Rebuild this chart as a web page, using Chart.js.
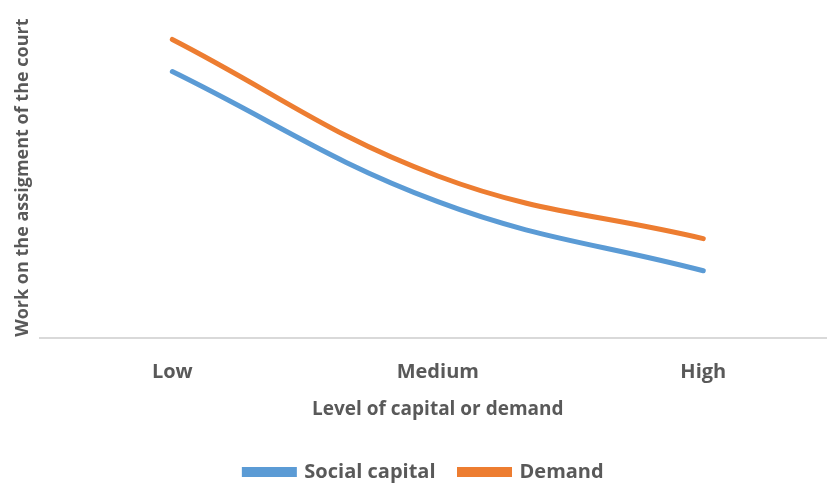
<!DOCTYPE html>
<html>
<head>
<meta charset="utf-8">
<script src="https://cdn.jsdelivr.net/npm/chart.js"></script>
<style>
  html, body { margin: 0; padding: 0; background: #fff; overflow: hidden; }
  #wrap { width: 827px; height: 484px; overflow: hidden; }
</style>
</head>
<body>
<div id="wrap"><canvas id="chart" width="836" height="484"></canvas></div>
<script>
    // values (no unit on the y axis in the original)
    const levels = ["Low", "Medium", "High"];
    const socialCapital = [8.3, 4.25, 2.1];
    const demand = [9.3, 5.05, 3.1];

    const gray = "#595959";
    const font = "'Open Sans', 'Noto Sans', sans-serif";

    new Chart(document.getElementById("chart").getContext("2d"), {
        type: "line",
        data: {
            labels: levels,
            datasets: [
                {
                    label: "Social capital",
                    data: socialCapital,
                    borderColor: "#5B9BD5",
                    backgroundColor: "#5B9BD5",
                    borderWidth: 5,
                    borderCapStyle: "round",
                    tension: 0.4,
                    pointRadius: 0,
                    fill: false
                },
                {
                    label: "Demand",
                    data: demand,
                    borderColor: "#ED7D31",
                    backgroundColor: "#ED7D31",
                    borderWidth: 5,
                    borderCapStyle: "round",
                    tension: 0.4,
                    pointRadius: 0,
                    fill: false
                }
            ]
        },
        options: {
            responsive: false,
            animation: false,
            layout: { padding: { left: 12, right: 0, top: 17, bottom: -8 } },
            plugins: {
                tooltip: { enabled: false },
                legend: {
                    position: "bottom",
                    labels: {
                        boxWidth: 50,
                        boxHeight: 5,
                        padding: 24,
                        color: gray,
                        font: { family: font, size: 20, weight: "bold" }
                    }
                }
            },
            scales: {
                x: {
                    offset: true,
                    grid: { display: false, drawTicks: false },
                    border: { color: "#d9d9d9", width: 2 },
                    ticks: {
                        color: gray,
                        padding: 22,
                        font: { family: font, size: 20, weight: "bold" }
                    },
                    title: {
                        display: true,
                        text: "Level of capital or demand",
                        color: gray,
                        padding: { top: -8, bottom: 17 },
                        font: { family: font, size: 19, weight: "bold" }
                    }
                },
                y: {
                    min: 0,
                    max: 10,
                    grid: { display: false, drawTicks: false },
                    border: { display: false },
                    ticks: { display: false },
                    title: {
                        display: true,
                        text: "Work on the assigment of the court",
                        color: gray,
                        padding: { top: 0, bottom: 6 },
                        font: { family: font, size: 18, weight: "bold" }
                    }
                }
            }
        }
    });
</script>
</body>
</html>
